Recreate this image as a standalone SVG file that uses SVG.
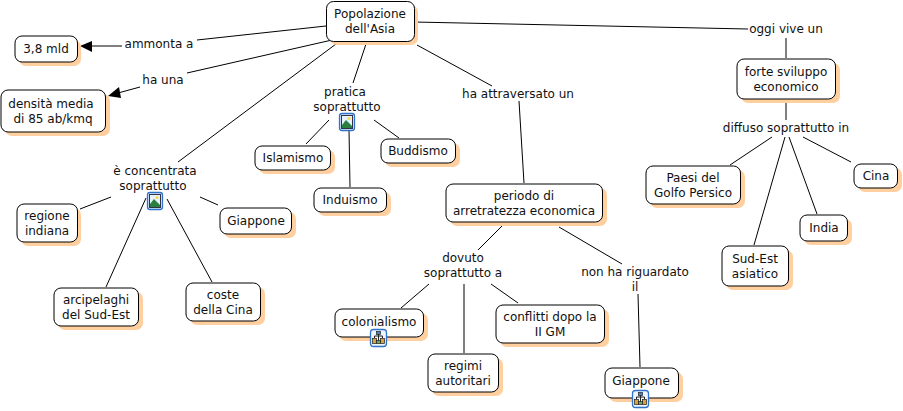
<svg xmlns="http://www.w3.org/2000/svg" width="903" height="411" viewBox="0 0 903 411">
<defs>
<style>
.s{fill:#ffcf9f;stroke:none}
.b{fill:#fff;stroke:#000;stroke-width:1}
text{font-family:"DejaVu Sans",Verdana,sans-serif;font-size:12px;fill:#111;text-anchor:middle}
.c line{stroke:#000;stroke-width:1}
.ah{fill:#000}
</style>
<g id="pic">
<rect x="0.500" y="0.500" width="15" height="17" rx="2.500" fill="#dceafa" stroke="#2f72cc" stroke-width="1.300"/>
<rect x="2.500" y="2.500" width="11" height="13" fill="#e8f2fc" stroke="#334"/>
<circle cx="10" cy="5.500" r="1.600" fill="#f2dc50"/>
<path d="M3 15L3 12L7 7L13 13L13 15Z" fill="#2a8040"/>
</g>
<g id="tree">
<rect x="0.500" y="0.500" width="16" height="17" rx="3" fill="#eef5fd" stroke="#2f72cc" stroke-width="1.300"/>
<path d="M8.500 4V7M4.500 9V7H12.500V9M8.500 7V13" fill="none" stroke="#222"/>
<rect x="6.500" y="2.500" width="4" height="3" fill="#4a80c8" stroke="#222" stroke-width=".7"/>
<rect x="2.500" y="9.500" width="4" height="5" fill="#d8a040" stroke="#222" stroke-width=".7"/>
<rect x="10.500" y="9.500" width="4" height="5" fill="#d8a040" stroke="#222" stroke-width=".7"/>
<rect x="6.500" y="11.500" width="4" height="3" fill="#70a860" stroke="#222" stroke-width=".7"/>
</g>
</defs>
<rect width="903" height="411" fill="#fff"/>
<g id="connectors" class="c">
<line x1="326" y1="26" x2="197" y2="40"/>
<line x1="122" y1="46" x2="92" y2="46"/>
<path class="ah" d="M80 46L92 41V52Z"/>
<line x1="332" y1="40" x2="187" y2="73"/>
<line x1="140" y1="87" x2="118" y2="93"/>
<path class="ah" d="M108 96L119 87L121 98Z"/>
<line x1="340" y1="41" x2="178" y2="162"/>
<line x1="111" y1="197" x2="80" y2="209"/>
<line x1="146" y1="198" x2="106" y2="287"/>
<line x1="167" y1="199" x2="212" y2="282"/>
<line x1="200" y1="197" x2="218" y2="205"/>
<line x1="367" y1="41" x2="353" y2="83"/>
<line x1="329" y1="120" x2="306" y2="144"/>
<line x1="349" y1="130" x2="350" y2="187"/>
<line x1="374" y1="120" x2="399" y2="138"/>
<line x1="417" y1="45" x2="492" y2="86"/>
<line x1="519" y1="101" x2="524" y2="183"/>
<line x1="502" y1="226" x2="478" y2="250"/>
<line x1="559" y1="227" x2="622" y2="264"/>
<line x1="429" y1="284" x2="401" y2="308"/>
<line x1="464" y1="284" x2="464" y2="353"/>
<line x1="491" y1="284" x2="518" y2="303"/>
<line x1="638" y1="294" x2="640" y2="367"/>
<line x1="414" y1="22" x2="748" y2="29"/>
<line x1="786" y1="38" x2="786" y2="58"/>
<line x1="786" y1="99" x2="786" y2="120"/>
<line x1="772" y1="137" x2="730" y2="165"/>
<line x1="785" y1="137" x2="754" y2="245"/>
<line x1="789" y1="137" x2="817" y2="214"/>
<line x1="803" y1="137" x2="851" y2="162"/>
</g>
<g id="n1"><rect class="s" x="330" y="5" width="88" height="40" rx="7"/><rect class="b" x="326.500" y="1.500" width="88" height="40" rx="7"/><text x="370" y="18">Popolazione</text><text x="370" y="33">dell'Asia</text></g>
<g id="n2"><rect class="s" x="19" y="40" width="62" height="26" rx="7"/><rect class="b" x="15" y="36" width="62.500" height="26" rx="7"/><text x="46" y="53">3,8 mld</text></g>
<g id="n3"><rect class="s" x="5" y="94" width="105" height="42" rx="7"/><rect class="b" x="1" y="90" width="104.500" height="42" rx="7"/><text x="51" y="108">densità media</text><text x="53" y="123">di 85 ab/kmq</text></g>
<g id="n4"><rect class="s" x="21" y="208" width="60" height="38" rx="7"/><rect class="b" x="17" y="204" width="60.500" height="38" rx="7"/><text x="47" y="220">regione</text><text x="47" y="235">indiana</text></g>
<g id="n5"><rect class="s" x="58" y="292" width="85" height="38" rx="7"/><rect class="b" x="54" y="288" width="84.500" height="38" rx="7"/><text x="96" y="304">arcipelaghi</text><text x="96" y="319">del Sud-Est</text></g>
<g id="n6"><rect class="s" x="190" y="287" width="75" height="38" rx="7"/><rect class="b" x="186" y="283" width="74.500" height="38" rx="7"/><text x="223" y="299">coste</text><text x="223" y="314">della Cina</text></g>
<g id="n7"><rect class="s" x="224" y="212" width="72" height="26" rx="7"/><rect class="b" x="220" y="208" width="71.500" height="26" rx="7"/><text x="256" y="225">Giappone</text></g>
<g id="n8"><rect class="s" x="259" y="150" width="76" height="24" rx="7"/><rect class="b" x="255" y="146" width="75.500" height="24" rx="7"/><text x="293" y="162">Islamismo</text></g>
<g id="n9"><rect class="s" x="318" y="192" width="73" height="24" rx="7"/><rect class="b" x="314" y="188" width="72.500" height="24" rx="7"/><text x="350" y="204">Induismo</text></g>
<g id="n10"><rect class="s" x="385" y="143" width="75" height="24" rx="7"/><rect class="b" x="381" y="139" width="74.500" height="24" rx="7"/><text x="418" y="155">Buddismo</text></g>
<g id="n11"><rect class="s" x="450" y="188" width="157" height="38" rx="7"/><rect class="b" x="446" y="184" width="156.500" height="38" rx="7"/><text x="524" y="200">periodo di</text><text x="524" y="215">arretratezza economica</text></g>
<g id="n12"><rect class="s" x="339" y="313" width="89" height="28" rx="7"/><rect class="b" x="335" y="309" width="88.500" height="28" rx="7"/><text x="379" y="326">colonialismo</text><use href="#tree" x="370" y="329"/></g>
<g id="n13"><rect class="s" x="432" y="358" width="71" height="38" rx="7"/><rect class="b" x="428" y="354" width="70.500" height="38" rx="7"/><text x="463" y="370">regimi</text><text x="463" y="385">autoritari</text></g>
<g id="n14"><rect class="s" x="500" y="309" width="109" height="38" rx="7"/><rect class="b" x="496" y="305" width="108.500" height="38" rx="7"/><text x="550" y="321">conflitti dopo la</text><text x="550" y="336">II GM</text></g>
<g id="n15"><rect class="s" x="609" y="372" width="74" height="30" rx="7"/><rect class="b" x="605" y="368" width="73.500" height="30" rx="7"/><text x="641" y="385">Giappone</text><use href="#tree" x="632" y="390"/></g>
<g id="n16"><rect class="s" x="741" y="63" width="99" height="40" rx="7"/><rect class="b" x="737" y="59" width="98.500" height="40" rx="7"/><text x="786" y="76">forte sviluppo</text><text x="786" y="91">economico</text></g>
<g id="n17"><rect class="s" x="650" y="170" width="95" height="38" rx="7"/><rect class="b" x="646" y="166" width="94.500" height="38" rx="7"/><text x="693" y="182">Paesi del</text><text x="693" y="197">Golfo Persico</text></g>
<g id="n18"><rect class="s" x="726" y="250" width="67" height="40" rx="7"/><rect class="b" x="722" y="246" width="66.500" height="40" rx="7"/><text x="755" y="263">Sud-Est</text><text x="755" y="278">asiatico</text></g>
<g id="n19"><rect class="s" x="804" y="219" width="48" height="26" rx="7"/><rect class="b" x="800" y="215" width="47.500" height="26" rx="7"/><text x="824" y="232">India</text></g>
<g id="n20"><rect class="s" x="858" y="168" width="44" height="24" rx="7"/><rect class="b" x="854" y="164" width="43.500" height="24" rx="7"/><text x="876" y="180">Cina</text></g>
<g id="l1"><text x="159" y="48">ammonta a</text></g>
<g id="l2"><text x="163" y="84">ha una</text></g>
<g id="l3"><text x="155" y="175">è concentrata</text><text x="153" y="190">soprattutto</text><use href="#pic" x="147" y="192"/></g>
<g id="l4"><text x="345" y="96">pratica</text><text x="347" y="111">soprattutto</text><use href="#pic" x="339" y="113"/></g>
<g id="l5"><text x="518" y="98">ha attraversato un</text></g>
<g id="l6"><text x="463" y="262">dovuto</text><text x="463" y="277">soprattutto a</text></g>
<g id="l7"><text x="635" y="276">non ha riguardato</text><text x="635" y="291">il</text></g>
<g id="l8"><text x="786" y="33">oggi vive un</text></g>
<g id="l9"><text x="786" y="132">diffuso soprattutto in</text></g>
</svg>
